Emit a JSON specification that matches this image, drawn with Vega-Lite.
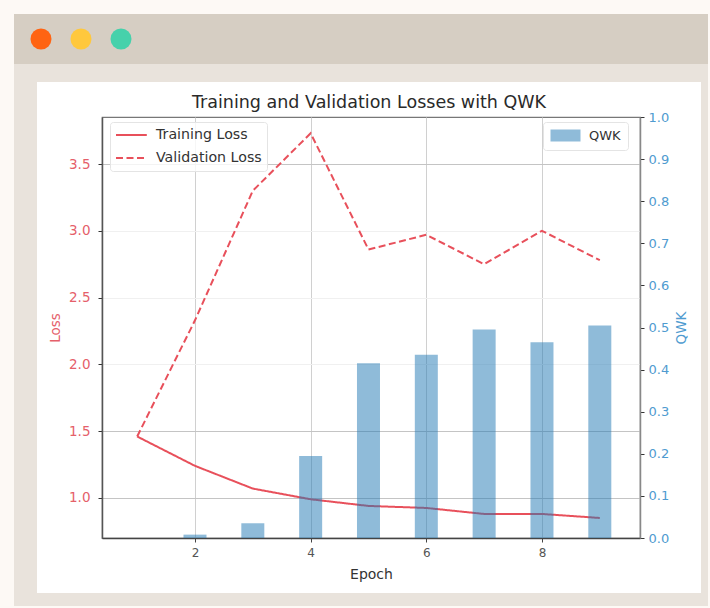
{
"$schema":"https://vega.github.io/schema/vega-lite/v6.json",
"padding":0,"background":"#ffffff","spacing":0,"bounds":"flush","align":"each","columns":7,
"config":{"view":{"stroke":null},"font":"DejaVu Sans"},
"resolve":{"legend":{"stroke":"independent","strokeDash":"independent","fill":"independent"}},
"datasets":{
"loss":[
{"epoch":1,"series":"Training Loss","value":1.46},{"epoch":2,"series":"Training Loss","value":1.24},{"epoch":3,"series":"Training Loss","value":1.07},{"epoch":4,"series":"Training Loss","value":0.99},{"epoch":5,"series":"Training Loss","value":0.94},{"epoch":6,"series":"Training Loss","value":0.925},{"epoch":7,"series":"Training Loss","value":0.88},{"epoch":8,"series":"Training Loss","value":0.88},{"epoch":9,"series":"Training Loss","value":0.85},
{"epoch":1,"series":"Validation Loss","value":1.46},{"epoch":2,"series":"Validation Loss","value":2.33},{"epoch":3,"series":"Validation Loss","value":3.3},{"epoch":4,"series":"Validation Loss","value":3.73},{"epoch":5,"series":"Validation Loss","value":2.86},{"epoch":6,"series":"Validation Loss","value":2.97},{"epoch":7,"series":"Validation Loss","value":2.75},{"epoch":8,"series":"Validation Loss","value":3.0},{"epoch":9,"series":"Validation Loss","value":2.78}],
"qwk":[
{"epoch":1,"series":"QWK","value":0.0},{"epoch":2,"series":"QWK","value":0.008},{"epoch":3,"series":"QWK","value":0.035},{"epoch":4,"series":"QWK","value":0.195},{"epoch":5,"series":"QWK","value":0.415},{"epoch":6,"series":"QWK","value":0.435},{"epoch":7,"series":"QWK","value":0.495},{"epoch":8,"series":"QWK","value":0.465},{"epoch":9,"series":"QWK","value":0.505}],
"dots":[{"light":"close","slot":1},{"light":"minimize","slot":2},{"light":"zoom","slot":3}],
"one":[{"k":1}]
},
"concat":[
{"width":14,"height":14,"data":{"name":"one"},"mark":{"type":"rect","fill":"#fdf9f5"}},
{"width":23,"height":14,"data":{"name":"one"},"mark":{"type":"rect","fill":"#fdf9f5"}},
{"width":65,"height":14,"data":{"name":"one"},"mark":{"type":"rect","fill":"#fdf9f5"}},
{"width":538,"height":14,"data":{"name":"one"},"mark":{"type":"rect","fill":"#fdf9f5"}},
{"width":61,"height":14,"data":{"name":"one"},"mark":{"type":"rect","fill":"#fdf9f5"}},
{"width":7,"height":14,"data":{"name":"one"},"mark":{"type":"rect","fill":"#fdf9f5"}},
{"width":2,"height":14,"data":{"name":"one"},"mark":{"type":"rect","fill":"#fdf9f5"}},

{"width":14,"height":50,"data":{"name":"one"},"mark":{"type":"rect","fill":"#fdf9f5"}},
{"width":23,"height":50,"data":{"name":"one"},"mark":{"type":"rect","fill":"#d6cec3"}},
{"width":65,"height":50,"data":{"name":"one"},"mark":{"type":"rect","fill":"#d6cec3"}},
{"width":538,"height":50,"data":{"name":"dots"},"view":{"fill":"#d6cec3"},
 "mark":{"type":"point","filled":true,"size":440,"opacity":1,"clip":false},
 "encoding":{
  "x":{"field":"slot","type":"quantitative","axis":null,"scale":{"domain":[2.525,15.975],"nice":false,"zero":false}},
  "color":{"field":"light","type":"nominal","legend":null,"scale":{"domain":["close","minimize","zoom"],"range":["#ff6412","#ffc83d","#46d1ab"]}}}},
{"width":61,"height":50,"data":{"name":"one"},"mark":{"type":"rect","fill":"#d6cec3"}},
{"width":7,"height":50,"data":{"name":"one"},"mark":{"type":"rect","fill":"#d6cec3"}},
{"width":2,"height":50,"data":{"name":"one"},"mark":{"type":"rect","fill":"#fdf9f5"}},

{"width":14,"height":18,"data":{"name":"one"},"mark":{"type":"rect","fill":"#fdf9f5"}},
{"width":23,"height":18,"data":{"name":"one"},"mark":{"type":"rect","fill":"#e9e3dc"}},
{"width":65,"height":18,"data":{"name":"one"},"mark":{"type":"rect","fill":"#e9e3dc"}},
{"width":538,"height":18,"data":{"name":"one"},"mark":{"type":"rect","fill":"#e9e3dc"}},
{"width":61,"height":18,"data":{"name":"one"},"mark":{"type":"rect","fill":"#e9e3dc"}},
{"width":7,"height":18,"data":{"name":"one"},"mark":{"type":"rect","fill":"#e9e3dc"}},
{"width":2,"height":18,"data":{"name":"one"},"mark":{"type":"rect","fill":"#fdf9f5"}},

{"width":14,"height":35,"data":{"name":"one"},"mark":{"type":"rect","fill":"#fdf9f5"}},
{"width":23,"height":35,"data":{"name":"one"},"mark":{"type":"rect","fill":"#e9e3dc"}},
{"width":65,"height":35,"data":{"name":"one"},"mark":{"type":"rect","opacity":0}},
{"width":538,"height":35,"data":{"name":"one"},"mark":{"type":"rect","opacity":0}},
{"width":61,"height":35,"data":{"name":"one"},"mark":{"type":"rect","opacity":0}},
{"width":7,"height":35,"data":{"name":"one"},"mark":{"type":"rect","fill":"#e9e3dc"}},
{"width":2,"height":35,"data":{"name":"one"},"mark":{"type":"rect","fill":"#fdf9f5"}},

{"width":14,"height":421,"data":{"name":"one"},"mark":{"type":"rect","fill":"#fdf9f5"}},
{"width":23,"height":421,"data":{"name":"one"},"mark":{"type":"rect","fill":"#e9e3dc"}},
{"width":65,"height":421,"data":{"name":"one"},"mark":{"type":"rect","opacity":0}},
{"width":538,"height":421,
 "title":{"text":"Training and Validation Losses with QWK","fontSize":17.5,"fontWeight":"normal","color":"#2a2a2a","offset":0,"anchor":"middle","dx":-2},
 "view":{"stroke":"#777777","strokeWidth":1.2},
 "layer":[
  {"data":{"name":"loss"},
   "mark":{"type":"line","strokeWidth":2},
   "encoding":{
    "x":{"field":"epoch","type":"quantitative","title":"Epoch",
     "scale":{"domain":[0.392,9.695],"nice":false,"zero":false,"padding":0},
     "axis":{"values":[2,4,6,8],"format":"d","grid":true,"gridColor":"#d0d0d0","labelColor":"#555555","labelFontSize":12,"labelPadding":5,"titleColor":"#333333","titleFontSize":14,"titleFontWeight":"normal","domainColor":"#444444","domainWidth":1.5,"tickColor":"#444444","tickSize":4,"titlePadding":9}},
    "y":{"field":"value","type":"quantitative","title":"Loss",
     "scale":{"domain":[0.7,3.852],"nice":false,"zero":false},
     "axis":{"orient":"left","values":[1,1.5,2,2.5,3,3.5],"format":".1f","grid":true,
      "gridColor":{"condition":{"test":"datum.value==1||datum.value==1.5||datum.value==3.5","value":"#c4c4c4"},"value":"#f0f0f0"},
      "labelColor":"#e5606a","labelFontSize":13.5,"titleColor":"#e5606a","titleFontSize":13.5,"titleFontWeight":"normal","domainColor":"#555555","domainWidth":1.5,"tickColor":"#333333","tickSize":4,"labelPadding":8,"titlePadding":6}},
    "stroke":{"field":"series","type":"nominal","scale":{"domain":["Training Loss","Validation Loss"],"range":["#e8505b","#e8505b"]},
     "legend":{"title":null,"orient":"none","legendX":8,"legendY":5,"symbolType":"M-1,0H3.4","symbolSize":196,"symbolStrokeWidth":2,"labelFontSize":14.2,"labelOffset":25,"labelColor":"#333333","fillColor":"#ffffffcc","strokeColor":"#e4e4e4","cornerRadius":3,"padding":5,"rowPadding":7}},
    "strokeDash":{"field":"series","type":"nominal","scale":{"domain":["Training Loss","Validation Loss"],"range":[[1,0],[7,3.5]]},"legend":{"title":null,"orient":"none"}}
   }},
  {"data":{"name":"qwk"},
   "mark":{"type":"bar","size":23,"opacity":0.5},
   "encoding":{
    "x":{"field":"epoch","type":"quantitative"},
    "y":{"field":"value","type":"quantitative","title":"QWK",
     "scale":{"domain":[0,1],"nice":false},
     "axis":{"orient":"right","values":[0,0.1,0.2,0.3,0.4,0.5,0.6,0.7,0.8,0.9,1],"format":".1f","grid":false,"labelColor":"#4f9bd0","labelFontSize":13,"titleColor":"#4f9bd0","titleFontSize":13.5,"titleFontWeight":"normal","titleAngle":270,"domainColor":"#888888","domainWidth":1.5,"tickColor":"#333333","tickSize":4,"labelPadding":4,"titlePadding":20}},
    "fill":{"field":"series","type":"nominal","scale":{"domain":["QWK"],"range":["#1f77b4"]},
     "legend":{"title":null,"orient":"none","legendX":441,"legendY":5,"symbolType":"M-1,-1H4V1H-1Z","symbolSize":144,"symbolOpacity":0.5,"symbolStrokeWidth":0,"labelFontSize":13,"labelOffset":26,"labelColor":"#333333","fillColor":"#ffffffcc","strokeColor":"#e4e4e4","cornerRadius":3,"padding":7}}
   }}
 ],
 "resolve":{"scale":{"y":"independent"},"axis":{"y":"independent"}}
},
{"width":61,"height":421,"data":{"name":"one"},"mark":{"type":"rect","opacity":0}},
{"width":7,"height":421,"data":{"name":"one"},"mark":{"type":"rect","fill":"#e9e3dc"}},
{"width":2,"height":421,"data":{"name":"one"},"mark":{"type":"rect","fill":"#fdf9f5"}},

{"width":14,"height":55,"data":{"name":"one"},"mark":{"type":"rect","fill":"#fdf9f5"}},
{"width":23,"height":55,"data":{"name":"one"},"mark":{"type":"rect","fill":"#e9e3dc"}},
{"width":65,"height":55,"data":{"name":"one"},"mark":{"type":"rect","opacity":0}},
{"width":538,"height":55,"data":{"name":"one"},"mark":{"type":"rect","opacity":0}},
{"width":61,"height":55,"data":{"name":"one"},"mark":{"type":"rect","opacity":0}},
{"width":7,"height":55,"data":{"name":"one"},"mark":{"type":"rect","fill":"#e9e3dc"}},
{"width":2,"height":55,"data":{"name":"one"},"mark":{"type":"rect","fill":"#fdf9f5"}},

{"width":14,"height":13,"data":{"name":"one"},"mark":{"type":"rect","fill":"#fdf9f5"}},
{"width":23,"height":13,"data":{"name":"one"},"mark":{"type":"rect","fill":"#e9e3dc"}},
{"width":65,"height":13,"data":{"name":"one"},"mark":{"type":"rect","fill":"#e9e3dc"}},
{"width":538,"height":13,"data":{"name":"one"},"mark":{"type":"rect","fill":"#e9e3dc"}},
{"width":61,"height":13,"data":{"name":"one"},"mark":{"type":"rect","fill":"#e9e3dc"}},
{"width":7,"height":13,"data":{"name":"one"},"mark":{"type":"rect","fill":"#e9e3dc"}},
{"width":2,"height":13,"data":{"name":"one"},"mark":{"type":"rect","fill":"#fdf9f5"}},

{"width":14,"height":2,"data":{"name":"one"},"mark":{"type":"rect","fill":"#fdf9f5"}},
{"width":23,"height":2,"data":{"name":"one"},"mark":{"type":"rect","fill":"#fdf9f5"}},
{"width":65,"height":2,"data":{"name":"one"},"mark":{"type":"rect","fill":"#fdf9f5"}},
{"width":538,"height":2,"data":{"name":"one"},"mark":{"type":"rect","fill":"#fdf9f5"}},
{"width":61,"height":2,"data":{"name":"one"},"mark":{"type":"rect","fill":"#fdf9f5"}},
{"width":7,"height":2,"data":{"name":"one"},"mark":{"type":"rect","fill":"#fdf9f5"}},
{"width":2,"height":2,"data":{"name":"one"},"mark":{"type":"rect","fill":"#fdf9f5"}}
]
}
